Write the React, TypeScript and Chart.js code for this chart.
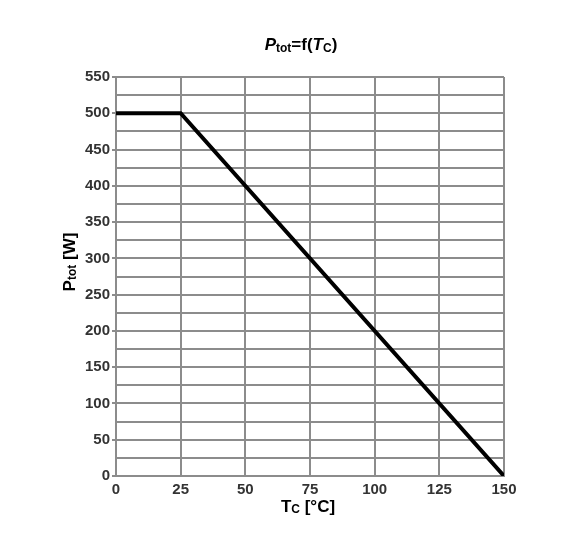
import React, { useEffect, useRef } from "react";
import { Chart, registerables } from "chart.js";

Chart.register(...registerables);

const temperatureC = [0, 25, 150];
const powerW = [500, 500, 0];
const xTicks = [0, 25, 50, 75, 100, 125, 150];
const yMax = 550;

const GRID = "#8c8c8c";
const FONT = "'Liberation Sans', Arial, sans-serif";

type Part = { text: string; font: string; dy: number };

function drawRich(ctx: CanvasRenderingContext2D, parts: Part[], cx: number, cy: number) {
  let total = 0;
  for (const p of parts) {
    ctx.font = p.font;
    total += ctx.measureText(p.text).width;
  }
  let x = cx - total / 2;
  ctx.textBaseline = "middle";
  ctx.textAlign = "left";
  for (const p of parts) {
    ctx.font = p.font;
    ctx.fillText(p.text, x, cy + p.dy);
    x += ctx.measureText(p.text).width;
  }
}

const big = `bold 17px ${FONT}`;
const bigIt = `italic bold 17px ${FONT}`;
const small = `bold 12px ${FONT}`;

const titlePlugin = {
  id: "richTitles",
  afterDraw(chart: any) {
    const ctx = chart.ctx as CanvasRenderingContext2D;
    const a = chart.chartArea;
    ctx.save();
    ctx.fillStyle = "#000";
    drawRich(
      ctx,
      [
        { text: "P", font: bigIt, dy: 0 },
        { text: "tot", font: small, dy: 4 },
        { text: "=f(", font: big, dy: 0 },
        { text: "T", font: bigIt, dy: 0 },
        { text: "C", font: small, dy: 4 },
        { text: ")", font: big, dy: 0 },
      ],
      301,
      45
    );
    drawRich(
      ctx,
      [
        { text: "T", font: big, dy: 0 },
        { text: "C", font: small, dy: 3 },
        { text: " [°C]", font: big, dy: 0 },
      ],
      (a.left + a.right) / 2 - 2,
      507
    );
    ctx.translate(70, 262);
    ctx.rotate(-Math.PI / 2);
    drawRich(
      ctx,
      [
        { text: "P", font: big, dy: 0 },
        { text: "tot", font: small, dy: 3 },
        { text: " [W]", font: big, dy: 0 },
      ],
      0,
      0
    );
    ctx.restore();
  },
};

export default function App() {
  const ref = useRef<HTMLCanvasElement>(null);
  useEffect(() => {
    if (!ref.current) return;
    const chart = new Chart(ref.current, {
      type: "scatter",
      data: {
        datasets: [
          {
            data: temperatureC.map((t, i) => ({ x: t, y: powerW[i] })),
            showLine: true,
            borderColor: "#000",
            borderWidth: 4,
            pointRadius: 0,
            fill: false,
          },
        ],
      },
      options: {
        animation: false,
        responsive: false,
        layout: { padding: { top: 77, right: 76, left: 0, bottom: 0 } },
        plugins: { legend: { display: false }, tooltip: { enabled: false }, title: { display: false } },
        scales: {
          x: {
            type: "linear",
            min: 0,
            max: 150,
            afterBuildTicks: (s: any) => {
              s.ticks = xTicks.map((v) => ({ value: v }));
            },
            afterFit: (s: any) => {
              s.height = 64;
            },
            grid: { color: GRID, lineWidth: 2, tickLength: 4, tickColor: "rgba(0,0,0,0)" },
            border: { color: GRID, width: 2 },
            ticks: {
              font: { family: FONT, size: 15, weight: "bold" },
              color: "#333",
              padding: 1,
              maxRotation: 0,
            },
          },
          y: {
            type: "linear",
            min: 0,
            max: yMax,
            afterFit: (s: any) => {
              s.width = 116;
            },
            grid: {
              color: GRID,
              lineWidth: 2,
              tickLength: 4,
              tickColor: (c: any) => (c.tick && c.tick.value % 50 === 0 ? GRID : "rgba(0,0,0,0)"),
            },
            border: { color: GRID, width: 2 },
            ticks: {
              stepSize: 25,
              autoSkip: false,
              font: { family: FONT, size: 15, weight: "bold" },
              color: "#333",
              padding: 2,
              callback: (v: any) => (Number(v) % 50 === 0 ? String(v) : ""),
            },
          },
        },
      },
      plugins: [titlePlugin],
    } as any);
    return () => chart.destroy();
  }, []);
  return (
    <div style={{ position: "fixed", left: 0, top: 0, width: 580, height: 540, background: "#fff" }}>
      <canvas ref={ref} width={580} height={540} />
    </div>
  );
}
